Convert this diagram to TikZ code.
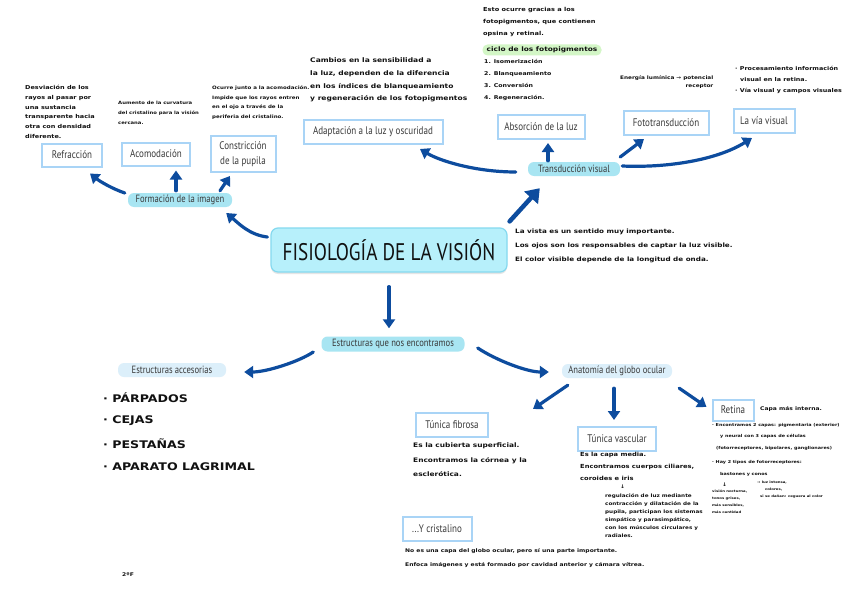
\documentclass[tikz,border=0pt]{standalone}
\usepackage{fontspec}
\setmainfont{PT Sans}
\newfontfamily\lblfont{PT Sans}[FakeStretch=0.82]
\newfontfamily\titlefont{PT Sans}[FakeStretch=0.8]
\newfontfamily\handfont{DejaVu Sans}[FakeStretch=1.2]
\usetikzlibrary{arrows.meta,calc,shadows}
\definecolor{arrowblue}{HTML}{0D4C9E}
\definecolor{boxline}{HTML}{A9D4F6}
\definecolor{pillfill}{HTML}{A8E5F2}
\definecolor{pilllight}{HTML}{DCEFFA}
\definecolor{titlefill}{HTML}{B7F0FB}
\definecolor{titleline}{HTML}{85D9EF}
\definecolor{greenpill}{HTML}{D3F6C6}
\definecolor{labeltext}{HTML}{3A3A3A}
\definecolor{ink}{HTML}{111111}
\tikzset{
  box/.style={draw=boxline, line width=2pt, fill=white, inner xsep=3pt, inner ysep=2pt,
    text=labeltext, font=\lblfont\fontsize{11}{12}\selectfont, align=center, minimum height=23pt},
  pill/.style={fill=pillfill, rounded corners=6pt, inner sep=0pt, minimum height=14pt,
    text=labeltext, font=\lblfont\fontsize{10.5}{11}\selectfont},
  lightpill/.style={pill, fill=pilllight},
  arr/.style={draw=arrowblue, line width=3.2pt, line cap=round, -{Triangle[length=9pt,width=12pt]}},
  bigarr/.style={draw=arrowblue, line width=4.5pt, line cap=round, -{Triangle[length=13pt,width=18pt]}},
  note/.style 2 args={anchor=north west, inner sep=0pt, align=left, text=ink,
    font=\handfont\bfseries\fontsize{#1}{#2}\selectfont},
  listitem/.style={anchor=west, inner sep=0pt, text=ink, font=\handfont\bfseries\fontsize{10.5}{12}\selectfont},
}
\begin{document}
\begin{tikzpicture}[x=1pt,y=-1pt]
\useasboundingbox[fill=white] (0,0) rectangle (848,599);

% central node
\node[draw=titleline, fill=titlefill, line width=1.2pt, rounded corners=7pt,
  minimum width=236pt, minimum height=44pt,
  drop shadow={shadow xshift=0pt, shadow yshift=-2pt, opacity=.25, fill=black!40},
  font=\titlefont\fontsize{24}{26}\selectfont, text=ink] (title) at (389,250) {FISIOLOGÍA DE LA VISIÓN};

% pills
\node[pill, minimum width=104pt] (formacion) at (180,200) {Formación de la imagen};
\node[pill, minimum width=92pt] (transduccion) at (574,169) {Transducción visual};
\node[pill, minimum width=143pt, minimum height=15pt] (estructuras) at (393,344) {Estructuras que nos encontramos};
\node[lightpill, minimum width=108pt] (accesorias) at (172,370) {Estructuras accesorias};
\node[lightpill, minimum width=110pt] (anatomia) at (617,371) {Anatomía del globo ocular};

% boxes
\node[box, minimum width=60pt] (refraccion) at (72,155) {Refracción};
\node[box, minimum width=68pt] (acomodacion) at (156,154) {Acomodación};
\node[box, minimum width=65pt, minimum height=36pt, font=\lblfont\fontsize{11}{15}\selectfont] (constriccion) at (243,154) {Constricción\\de la pupila};
\node[box, minimum width=139pt, minimum height=24pt] (adaptacion) at (373,132) {Adaptación a la luz y oscuridad};
\node[box, minimum width=87pt, minimum height=24pt] (absorcion) at (541,127) {Absorción de la luz};
\node[box, minimum width=85pt, minimum height=24pt] (fototrans) at (666,123) {Fototransducción};
\node[box, minimum width=61pt, minimum height=24pt] (viavisual) at (764,121) {La vía visual};
\node[box, minimum width=72pt, minimum height=24pt] (fibrosa) at (452,425) {Túnica fibrosa};
\node[box, minimum width=78pt, minimum height=24pt] (vascular) at (617,439) {Túnica vascular};
\node[box, minimum width=41pt, minimum height=21pt] (retina) at (733,410) {Retina};
\node[box, minimum width=69pt, minimum height=24pt] (cristalino) at (437,529) {...Y cristalino};

% arrows
\draw[arr] ($(title.west)+(-3,-13)$) .. controls +(-18,-2) and +(12,10) .. ($(formacion.east)+(-6,13)$);
\draw[arr] ($(formacion.west)+(-3,-7)$) .. controls +(-12,-4) and +(10,8) .. ($(refraccion.south)+(18,6)$);
\draw[arr] ($(formacion.north)+(-4,-2)$) -- ($(acomodacion.south)+(20,4)$);
\draw[arr] ($(formacion.north)+(40,-2)$) -- ($(constriccion.south)+(-13,3)$);
\draw[bigarr] ($(title.north east)+(2,-6)$) -- ($(transduccion.south west)+(12,12)$);
\draw[arr] ($(transduccion.west)+(-12,3)$) .. controls +(-40,0) and +(20,12) .. ($(adaptacion.south)+(47,4)$);
\draw[arr] ($(transduccion.north)+(-26,-1)$) -- ($(absorcion.south)+(7,3)$);
\draw[arr] ($(transduccion.east)+(0,-12)$) -- ($(fototrans.south)+(-22,3)$);
\draw[arr] ($(transduccion.east)+(2,-3)$) .. controls +(45,2) and +(-35,22) .. ($(viavisual.south)+(-12,4)$);
\draw[arr] ($(title.south)+(0,14)$) -- ($(estructuras.north)+(-4,-8)$);
\draw[arr] ($(estructuras.west)+(-8,8)$) .. controls +(-15,10) and +(22,0) .. ($(accesorias.east)+(18,2)$);
\draw[arr] ($(estructuras.east)+(13,4)$) .. controls +(18,12) and +(-22,0) .. ($(anatomia.west)+(-13,1)$);
\draw[arr] ($(anatomia.south west)+(6,7)$) -- ($(fibrosa.north east)+(44,-3)$);
\draw[arr] ($(anatomia.south)+(-3,10)$) -- ($(vascular.north)+(-3,-6)$);
\draw[arr] ($(anatomia.south east)+(7,10)$) -- ($(retina.west)+(-5,-3)$);

% notes
\node[note={5.4}{9.8}] (nrefr) at (25,85) {Desviación de los\\rayos al pasar por\\una sustancia\\transparente hacia\\otra con densidad\\diferente.};
\node[note={4.4}{10}] (nacom) at (118,101) {Aumento de la curvatura\\del cristalino para la visión\\cercana.};
\node[note={4.6}{9.5}] (nconstr) at (212,86) {Ocurre junto a la acomodación.\\Impide que los rayos entren\\en el ojo a través de la\\periferia del cristalino.};
\node[note={6.3}{12.6}] (nadapt) at (310,58) {Cambios en la sensibilidad a\\la luz, dependen de la diferencia\\en los índices de blanqueamiento\\y regeneración de los fotopigmentos};
\node[note={5.5}{12}] (nabsor) at (483,7) {Esto ocurre gracias a los\\fotopigmentos, que contienen\\opsina y retinal.};
\node[fill=greenpill, rounded corners=5pt, minimum width=119pt, minimum height=11pt, inner sep=0pt,
  text=ink, font=\handfont\bfseries\fontsize{6.2}{7}\selectfont] (ciclo) at (542,50) {ciclo de los fotopigmentos};
\node[note={5.2}{12}] (nciclo) at (484,59) {1. Isomerización\\2. Blanqueamiento\\3. Conversión\\4. Regeneración.};
\node[note={4.8}{8}, align=right] (nfoto) at (620,75) {Energía lumínica → potencial\\receptor};
\node[note={5.3}{11}] (nvia) at (735,66) {· Procesamiento información\\\hspace*{5pt}visual en la retina.\\· Vía visual y campos visuales};
\node[note={6}{14}] (ntitle) at (515,229) {La vista es un sentido muy importante.\\Los ojos son los responsables de captar la luz visible.\\El color visible depende de la longitud de onda.};

\node[note={5}{6}] (nretcapa) at (760,406) {Capa más interna.};
\node[note={4.05}{11.5}] (nret) at (712,423) {· Encontramos 2 capas: pigmentaria (exterior)\\\hspace*{8pt}y neural con 3 capas de células\\\hspace*{4pt}(fotorreceptores, bipolares, ganglionares)\\[3pt]· Hay 2 tipos de fotorreceptores:\\\hspace*{8pt}bastones y conos};
\node[note={5}{6}] (nretarrow) at (722,483) {↓};
\node[note={3.2}{7}] (nbast) at (712,490) {visión nocturna,\\tonos grises,\\más sensibles,\\más cantidad};
\node[note={3.2}{7}] (ncono) at (757,481) {→ luz intensa,\\\hspace*{8pt}colores,\\\hspace*{3pt}si se dañan: ceguera al color};

\node[note={5.6}{12}] (nvasc) at (580,452) {Es la capa media.\\Encontramos cuerpos ciliares,\\coroides e iris};
\node[note={5}{6}] (nvascarrow) at (620,485) {↓};
\node[note={4.7}{8}] (nvasc2) at (605,494) {regulación de luz mediante\\contracción y dilatación de la\\pupila, participan los sistemas\\simpático y parasimpático,\\con los músculos circulares y\\radiales.};

\node[note={6.2}{14.5}] (nfibr) at (413,443) {Es la cubierta superficial.\\Encontramos la córnea y la\\esclerótica.};
\node[note={5}{14}] (ncrist) at (405,548) {No es una capa del globo ocular, pero sí una parte importante.\\Enfoca imágenes y está formado por cavidad anterior y cámara vítrea.};

% list
\node[listitem] (l1) at (103,398) {· PÁRPADOS};
\node[listitem] (l2) at (103,421) {· CEJAS};
\node[listitem] (l3) at (103,444) {· PESTAÑAS};
\node[listitem] (l4) at (103,467) {· APARATO LAGRIMAL};

\node[note={5}{6}] (curso) at (122,573) {2ºF};
\end{tikzpicture}
\end{document}
